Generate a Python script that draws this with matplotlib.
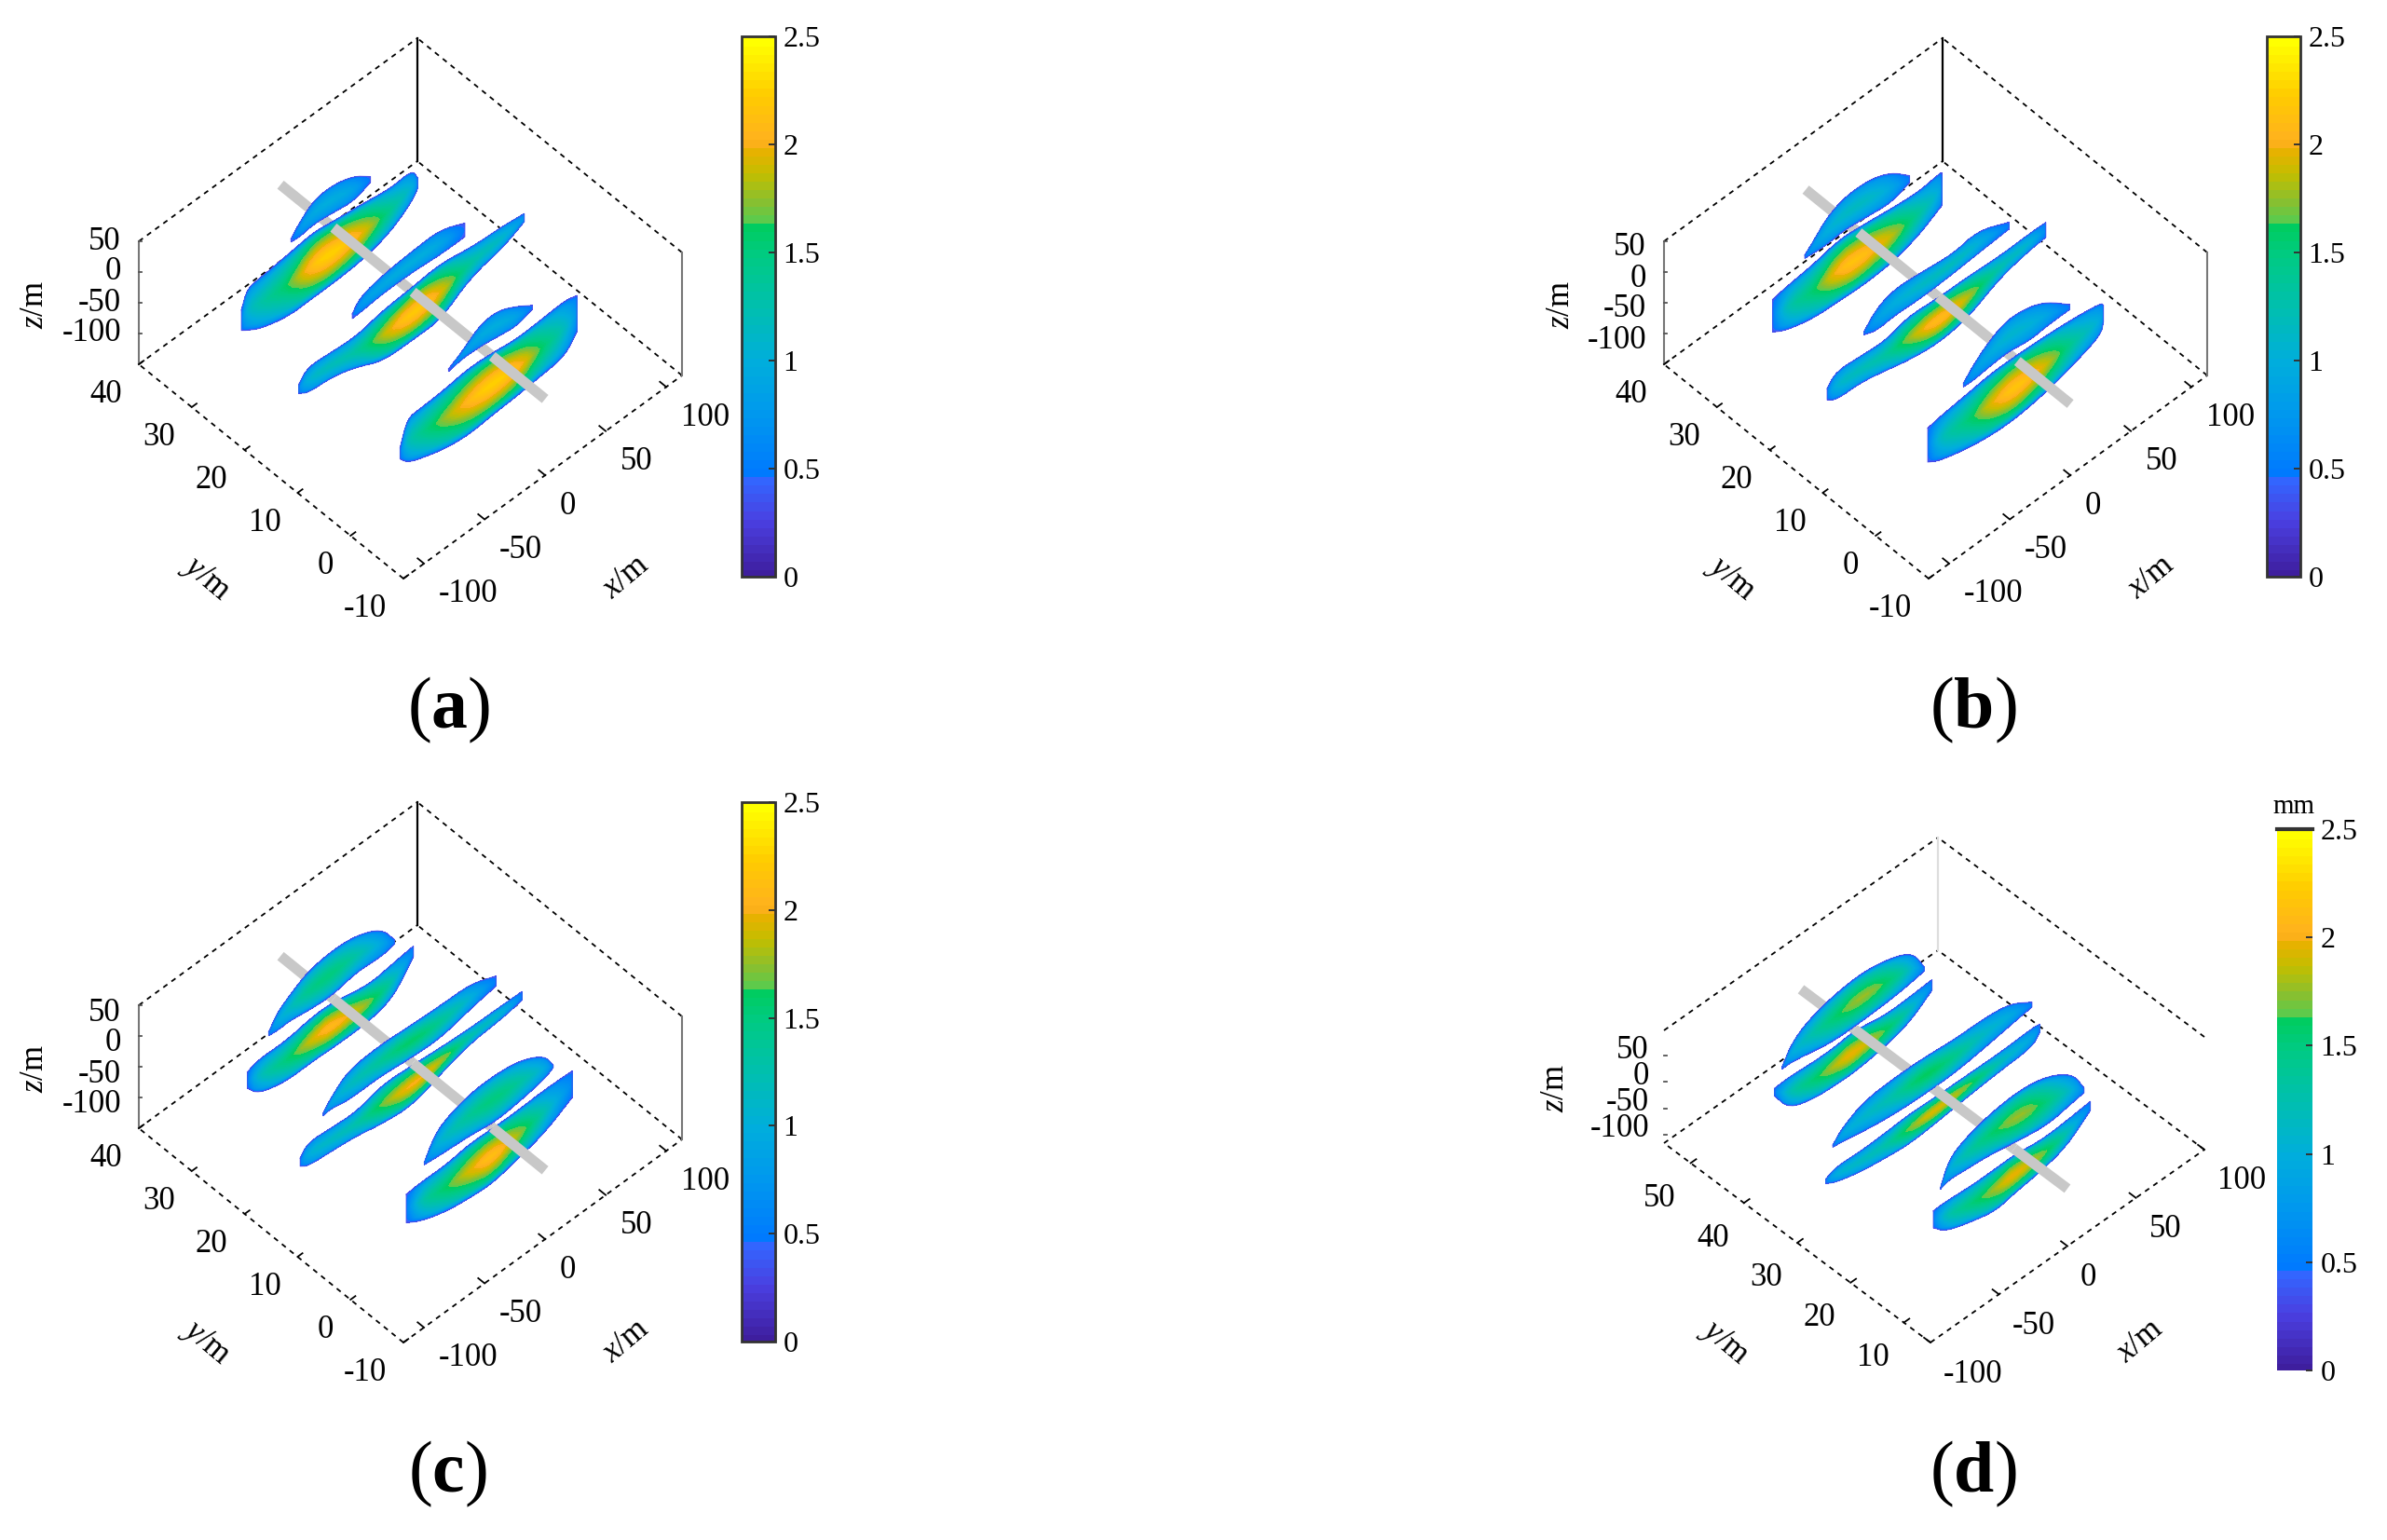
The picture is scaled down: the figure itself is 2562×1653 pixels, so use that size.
import numpy as np
import matplotlib
matplotlib.use('Agg')
import matplotlib.pyplot as plt
import matplotlib.tri as mtri
from matplotlib.cm import ScalarMappable
from matplotlib.colors import LinearSegmentedColormap, Normalize

plt.rcParams['font.family'] = ['Liberation Serif', 'DejaVu Serif']
plt.rcParams['mathtext.fontset'] = 'custom'
plt.rcParams['mathtext.rm'] = 'Liberation Serif'
plt.rcParams['mathtext.it'] = 'Liberation Serif:italic'
plt.rcParams['mathtext.bf'] = 'Liberation Serif:bold'

# colour scale
cbar_ticks = [0, 0.5, 1, 1.5, 2, 2.5]
cbar_labels = ['0', '0.5', '1', '1.5', '2', '2.5']
scale_vals = [0, .25, .44, .46, .75, 1.0, 1.25, 1.5, 1.63, 1.65, 1.75, 1.88, 2.0, 2.03, 2.25, 2.5]
scale_cols = ['#3E1E9E', '#4A3FE0', '#3366FF', '#0078FF', '#0098EE', '#00AEDC', '#00BFB0', '#00CB82',
              '#00CC60', '#55CC50', '#88C030', '#C2BE00', '#ECB000', '#FFB020', '#FFCC00', '#FFFF00']

# across-lobe profile
across_frac = [0, .05, .13, .28, .4, .5, .6, .72, .87, .95, 1]
across_gain = [0, .38, .64, .82, .94, 1, .94, .82, .64, .38, 0]
edge_val = 0.3

# panel (a), slices at y = 0, 15, 30
a0_low_x = [-76, -70, -60, -40, -20, 0, 20, 40, 60, 70]
a0_low_top = [-70, -31, -30, -28, -22, -25, -31, -29, -26, -32]
a0_low_bot = [-88, -102, -111, -124, -130, -126, -124, -120, -116, -90]
a0_low_peak = [.5, 1.2, 1.4, 1.75, 2.1, 2.3, 2.15, 1.6, 1.2, .7]
a0_up_x = [-36, -25, -10, 5, 20, 33]
a0_up_top = [1, 13, 35, 37, 22, 5]
a0_up_bot = [-3, 1, 0, -5, -10, -1]
a0_up_peak = [.4, .75, .95, 1.0, .9, .45]

a1_low_x = [-94, -86.5, -66, -46, -25, 0, 23, 48, 74, 92]
a1_low_top = [-45, -28, -32, -35, -25, -22, -17, -27, -30, -35]
a1_low_bot = [-60, -70, -73, -86, -107, -108, -108, -75, -65, -48]
a1_low_peak = [.6, 1.1, 1.2, 1.3, 1.85, 2.3, 2.0, 1.25, 1.15, .7]
a1_up_x = [-50, -43, -23, 2.5, 23, 43]
a1_up_top = [6, 24, 33, 37, 38, 20]
a1_up_bot = [-1.5, -1, 3, 2, -2, -2]
a1_up_peak = [.4, .8, .95, 1.0, .95, .45]

a2_low_x = [-76, -71, -60, -37, -16.5, 1.3, 24, 47, 65, 69.5]
a2_low_top = [-55, -27, -25, -20, -14, -20, -26, -34, -30, -49]
a2_low_bot = [-88, -95, -108, -121, -120, -120, -117, -105, -80, -66]
a2_low_peak = [.55, 1.1, 1.3, 1.6, 2.2, 2.3, 2.0, 1.4, 1.05, .6]
a2_up_x = [-35, -28, -16.5, -1.3, 16.5, 30.5]
a2_up_top = [2, 18, 37, 40, 30, 9]
a2_up_bot = [-3, -5, -1, -5, -11, 0]
a2_up_peak = [.4, .75, .95, 1.0, .9, .45]

# panel (b)
b0_low_x = [-74, -64, -41, -20, 0, 25, 48, 69, 71]
b0_low_top = [-33, -29, -24, -19, -20, -23, -28, -35, -41]
b0_low_bot = [-88, -100, -113, -120, -121, -114, -101, -86, -68]
b0_low_peak = [.5, 1.2, 1.5, 2.0, 2.25, 1.9, 1.3, 1.0, .5]
b0_up_x = [-44.5, -36, -23, -7.6, 10, 25, 43]
b0_up_top = [-2, 16, 36, 49, 44, 30, 0]
b0_up_bot = [-8, -9, -6, -4, -11, -8, -8]
b0_up_peak = [.5, .8, .95, 1.1, 1.05, .9, .5]

b1_low_x = [-91.6, -84, -63.6, -43, -25, 0, 25.4, 51, 76, 89]
b1_low_top = [-48, -31, -35, -39, -27, -32, -33, -37, -36, -37]
b1_low_bot = [-66, -77, -78, -88, -98, -106, -99, -73, -63, -61]
b1_low_peak = [.55, 1.1, 1.2, 1.3, 1.75, 2.2, 1.85, 1.2, 1.1, .6]
b1_up_x = [-61, -51, -35.6, -12.7, 12.7, 33, 58.5]
b1_up_top = [1, 23, 34, 29, 22, 30, 7]
b1_up_bot = [-4, -12, -9, -12, -10, -7, -4]
b1_up_peak = [.5, .85, 1.0, 1.15, 1.2, 1.05, .5]

b2_low_x = [-71, -60, -37, -16.5, 0, 26.7, 49.6, 67.4, 68.7]
b2_low_top = [-37, -33, -28, -19, -22, -30, -35, -30, -32]
b2_low_bot = [-90, -103, -116, -118, -121, -119, -106, -86, -85]
b2_low_peak = [.5, 1.25, 1.55, 2.1, 2.2, 1.9, 1.35, 1.0, .5]
b2_up_x = [-44.5, -37, -26.7, -11.5, 9, 26.7, 42]
b2_up_top = [-3, 10, 31, 44, 43, 29, 2]
b2_up_bot = [-8, -10, -12, -9, -15, -20, -9]
b2_up_peak = [.5, .8, 1.0, 1.15, 1.15, .95, .5]

# panel (c)
c0_low_x = [-71, -58.5, -38, -18, 0, 20, 43, 66]
c0_low_top = [-37, -35, -36, -30, -32, -33, -31, -33]
c0_low_bot = [-83, -98, -112, -118, -121, -112, -101, -76]
c0_low_peak = [.5, 1.3, 1.6, 1.95, 2.2, 1.85, 1.25, .6]
c0_up_x = [-56, -48, -38, -18, 2.5, 23, 43, 50.4]
c0_up_top = [-6, 24, 39, 51, 52, 46, 25, -1]
c0_up_bot = [-10, -12, -14, -17, -24, -20, -13, -5]
c0_up_peak = [.5, .95, 1.15, 1.4, 1.55, 1.35, 1.0, .5]

c1_low_x = [-93, -86.5, -66, -46, -25.4, 0, 25.4, 48, 74, 90]
c1_low_top = [-51, -35, -39, -42, -29, -33, -38, -41, -42, -43]
c1_low_bot = [-64, -73, -77, -82, -92, -98, -79, -66, -63, -57]
c1_low_peak = [.5, 1.05, 1.15, 1.25, 1.7, 2.1, 1.8, 1.2, 1.1, .55]
c1_up_x = [-74, -67.4, -53.4, -28, -2.5, 23, 48, 68.7]
c1_up_top = [-5, 11, 34, 38, 34, 31, 30, 13]
c1_up_bot = [-9, -7, -14, -13, -19, -22, -10, -3]
c1_up_peak = [.5, .9, 1.15, 1.35, 1.65, 1.4, 1.05, .5]

c2_low_x = [-71, -62, -39.4, -16.5, 0, 29, 49.6, 66]
c2_low_top = [-47, -40, -42, -34, -35, -49, -43, -39]
c2_low_bot = [-73, -95, -108, -107, -109, -109, -98, -56]
c2_low_peak = [.5, 1.2, 1.5, 1.95, 2.15, 1.75, 1.25, .55]
c2_up_x = [-53.4, -45.8, -35.6, -21.6, -1.3, 19, 39.4, 50.4]
c2_up_top = [-7, 15, 28, 44, 50, 46, 27, -6]
c2_up_bot = [-13, -15, -14, -19, -23, -14, -18, -13]
c2_up_peak = [.5, .95, 1.15, 1.45, 1.55, 1.3, .95, .5]

# panel (d), slices at y = 15, 30, 45
d0_low_x = [-59, -50, -31.7, -13.6, 0, 20.4, 38.5, 55.6]
d0_low_top = [-17, -16, -20, -20, -19, -27, -24, -19]
d0_low_bot = [-49, -72, -88, -100, -92, -85, -72, -36]
d0_low_peak = [.55, 1.25, 1.5, 1.8, 2.05, 1.75, 1.25, .55]
d0_up_x = [-53.7, -47.6, -36.3, -18, 4.5, 25, 43, 51]
d0_up_top = [18, 59, 77, 91, 97, 86, 56, 15]
d0_up_bot = [15, 21, 18, 14, 2, -6, 3, 6]
d0_up_peak = [.5, 1.0, 1.25, 1.55, 1.85, 1.5, 1.05, .5]

d1_low_x = [-79, -71.4, -53.3, -35, -19, 1, 26, 48.8, 71.4, 77]
d1_low_top = [-33, -24, -27, -25, -22, -24, -25, -26, -23, -25]
d1_low_bot = [-42, -53, -66, -73, -78, -74, -66, -61, -58, -41]
d1_low_peak = [.55, 1.05, 1.15, 1.25, 1.7, 2.0, 1.7, 1.15, .95, .55]
d1_up_x = [-74, -67, -51, -30.6, -8, 14.7, 37.4, 55.6, 71.4]
d1_up_top = [22, 42, 63, 67, 66, 60, 60, 53, 27]
d1_up_bot = [18, 16, 7, -1, -4, -4, 4, 12, 18]
d1_up_peak = [.5, .95, 1.1, 1.25, 1.7, 1.45, 1.1, 1.0, .5]

d2_low_x = [-58, -47.6, -29.5, -13.6, 0, 22.7, 41, 56.7]
d2_low_top = [-13, -11, -15, -15, -10, -22, -20, -17]
d2_low_bot = [-28, -70, -85, -88, -89, -81, -67, -37]
d2_low_peak = [.55, 1.25, 1.55, 1.85, 2.05, 1.65, 1.2, .6]
d2_up_x = [-52.6, -45.4, -34, -15.9, 6.8, 29.5, 43, 51]
d2_up_top = [18, 50, 70, 84, 90, 77, 58, 18]
d2_up_bot = [14, 14, 8, -2, -2, 1, 6, 10]
d2_up_peak = [.5, 1.0, 1.2, 1.55, 1.85, 1.5, 1.05, .5]

panel_a = {'O': (433, 621), 'R': (732, 403), 'L': (149, 391), 'H': 132,
           'xlim': (-117, 113), 'ylim': (-10, 40), 'zlim': (-150, 50), 'bar_z': -26, 'shift': 4,
           'slices': [30, 15, 0], 'yticks': [-10, 0, 10, 20, 30, 40], 'ylab_off': (-18, 33), 'xlab_off': (16, 33),
           'zlab_off': (-19, 0), 'zlab': (38, 327), 'ylab': (221, 621), 'xlab': (672, 620),
           'cax': (796, 39, 832, 619), 'title': (482, 762), 'letter': 'a', 'full_box': True,
           'lobes': [(a2_up_x, a2_up_top, a2_up_bot, a2_up_peak), (a2_low_x, a2_low_top, a2_low_bot, a2_low_peak),
                     (a1_up_x, a1_up_top, a1_up_bot, a1_up_peak), (a1_low_x, a1_low_top, a1_low_bot, a1_low_peak),
                     (a0_up_x, a0_up_top, a0_up_bot, a0_up_peak), (a0_low_x, a0_low_top, a0_low_bot, a0_low_peak)]}

panel_b = dict(panel_a)
panel_b.update({'O': (2070, 621), 'R': (2369, 403), 'L': (1786, 391), 'bar_z': -34, 'shift': -4,
                'zlab_off': (-19, 7), 'zlab': (1675, 327), 'ylab': (1858, 621), 'xlab': (2309, 620),
                'cax': (2433, 39, 2469, 619), 'title': (2118, 762), 'letter': 'b',
                'lobes': [(b2_up_x, b2_up_top, b2_up_bot, b2_up_peak), (b2_low_x, b2_low_top, b2_low_bot, b2_low_peak),
                          (b1_up_x, b1_up_top, b1_up_bot, b1_up_peak), (b1_low_x, b1_low_top, b1_low_bot, b1_low_peak),
                          (b0_up_x, b0_up_top, b0_up_bot, b0_up_peak), (b0_low_x, b0_low_top, b0_low_bot, b0_low_peak)]})

panel_c = dict(panel_a)
panel_c.update({'O': (433, 1441), 'R': (732, 1223), 'L': (149, 1211), 'bar_z': -38, 'shift': -8,
                'zlab_off': (-19, 8), 'zlab': (38, 1147), 'ylab': (221, 1441), 'xlab': (672, 1440),
                'cax': (796, 861, 832, 1440), 'title': (480, 1582), 'letter': 'c',
                'lobes': [(c2_up_x, c2_up_top, c2_up_bot, c2_up_peak), (c2_low_x, c2_low_top, c2_low_bot, c2_low_peak),
                          (c1_up_x, c1_up_top, c1_up_bot, c1_up_peak), (c1_low_x, c1_low_top, c1_low_bot, c1_low_peak),
                          (c0_up_x, c0_up_top, c0_up_bot, c0_up_peak), (c0_low_x, c0_low_top, c0_low_bot, c0_low_peak)]})

panel_d = {'O': (2072, 1441), 'R': (2366, 1234), 'L': (1786, 1227), 'H': 121,
           'xlim': (-100, 100), 'ylim': (5, 55), 'zlim': (-116, 98), 'bar_z': -7, 'shift': 0,
           'slices': [45, 30, 15], 'yticks': [10, 20, 30, 40, 50], 'ylab_off': (-16, 38), 'xlab_off': (14, 34),
           'zlab_off': (-16, -6), 'zlab': (1670, 1168), 'ylab': (1851, 1441), 'xlab': (2297, 1440),
           'cax': (2444, 890, 2482, 1471), 'title': (2118, 1582), 'letter': 'd', 'full_box': False,
           'lobes': [(d2_up_x, d2_up_top, d2_up_bot, d2_up_peak), (d2_low_x, d2_low_top, d2_low_bot, d2_low_peak),
                     (d1_up_x, d1_up_top, d1_up_bot, d1_up_peak), (d1_low_x, d1_low_top, d1_low_bot, d1_low_peak),
                     (d0_up_x, d0_up_top, d0_up_bot, d0_up_peak), (d0_low_x, d0_low_top, d0_low_bot, d0_low_peak)]}

W, H = 2562, 1653
xticks = [-100, -50, 0, 50, 100]
zticks = [-100, -50, 0, 50]
FS = 25
cmap = LinearSegmentedColormap.from_list('bar', [(v / 2.5, c) for v, c in zip(scale_vals, scale_cols)], N=64)
levels = np.linspace(0, 2.5, 65)


def project(p, x, y, z):
    """axis values -> figure pixels, using the box corners of the panel"""
    x, y, z = np.asarray(x, float), np.asarray(y, float), np.asarray(z, float)
    fx = (x - p['xlim'][0]) / (p['xlim'][1] - p['xlim'][0])
    fy = (y - p['ylim'][0]) / (p['ylim'][1] - p['ylim'][0])
    fz = (z - p['zlim'][0]) / (p['zlim'][1] - p['zlim'][0])
    ox, oy = p['O']
    px = ox + fx * (p['R'][0] - ox) + fy * (p['L'][0] - ox)
    py = oy + fx * (p['R'][1] - oy) + fy * (p['L'][1] - oy) - fz * p['H']
    return px, py


def round_off(arr, passes=2):
    # corner cutting so the outline is not a polygon, end stations stay put
    for _ in range(passes):
        q = 0.75 * arr[:-1] + 0.25 * arr[1:]
        r = 0.25 * arr[:-1] + 0.75 * arr[1:]
        arr = np.r_[arr[0], np.column_stack([q, r]).ravel(), arr[-1]]
    return arr


def draw_lobe(ax, p, y, lobe, zo):
    xs, top, bot, peak = [round_off(np.asarray(v, float)) for v in lobe]
    top = top + p['shift']
    bot = bot + p['shift']
    nrow = len(across_frac)
    n = len(xs)
    px, py, vals = [], [], []
    for f, g in zip(across_frac, across_gain):
        zz = top + f * (bot - top)
        a, b = project(p, xs, np.full(n, y), zz)
        px.append(a)
        py.append(b)
        vals.append(edge_val + (peak - edge_val) * g)
    px, py, vals = np.concatenate(px), np.concatenate(py), np.concatenate(vals)
    tris = []
    for r in range(nrow - 1):
        for i in range(n - 1):
            k = r * n + i
            tris.append([k, k + 1, k + n])
            tris.append([k + 1, k + n + 1, k + n])
    tri = mtri.Triangulation(px, py, tris)
    ax.tricontourf(tri, vals, levels=levels, cmap=cmap, norm=Normalize(0, 2.5), zorder=zo, extend='both',
                   antialiased=False)
    # thin rim so the lobe keeps its edge colour
    ring_x = np.r_[px[:n], px[-n:][::-1], px[0]]
    ring_y = np.r_[py[:n], py[-n:][::-1], py[0]]
    ax.plot(ring_x, ring_y, color='#4A4AE8', lw=0.9, alpha=0.6, zorder=zo + 0.1)


def draw_box(ax, p):
    xa, xb = p['xlim']
    ya, yb = p['ylim']
    za, zb = p['zlim']
    dash = dict(color='k', lw=1.3, ls=(0, (3, 3)), zorder=1)
    # floor
    for c in [((xa, ya), (xb, ya)), ((xa, ya), (xa, yb)), ((xa, yb), (xb, yb)), ((xb, ya), (xb, yb))]:
        a, b = project(p, [c[0][0], c[1][0]], [c[0][1], c[1][1]], [za, za])
        ax.plot(a, b, **dash)
    # top rim
    for c in [((xa, yb), (xb, yb)), ((xb, ya), (xb, yb))]:
        a, b = project(p, [c[0][0], c[1][0]], [c[0][1], c[1][1]], [zb, zb])
        ax.plot(a, b, **dash)
    a, b = project(p, [xb, xb], [yb, yb], [za, zb])
    ax.plot(a, b, color='k' if p['full_box'] else '#DDDDDD', lw=1.6, zorder=1)
    if p['full_box']:
        for xx, yy in [(xa, yb), (xb, ya)]:
            a, b = project(p, [xx, xx], [yy, yy], [za, zb])
            ax.plot(a, b, color='#777777', lw=1.5, zorder=1)
    # ticks and labels
    for t in xticks:
        a, b = project(p, [t, t], [ya, ya + 1.2], [za, za])
        ax.plot(a, b, color='k', lw=1.3, zorder=1)
        ax.text(a[0] + p['xlab_off'][0], b[0] + p['xlab_off'][1], str(t), fontsize=FS, ha='left', va='center')
    for t in p['yticks']:
        a, b = project(p, [xa, xa + 4], [t, t], [za, za])
        ax.plot(a, b, color='k', lw=1.3, zorder=1)
        ax.text(a[0] + p['ylab_off'][0], b[0] + p['ylab_off'][1], str(t), fontsize=FS, ha='right', va='center')
    for t in zticks:
        a, b = project(p, [xa, xa], [yb, yb], [t, t])
        ax.plot([a[0], a[0] + 3], [b[0], b[0]], color='#555555', lw=1.3, zorder=1)
        ax.text(a[0] + p['zlab_off'][0], b[0] + p['zlab_off'][1], str(t), fontsize=FS, ha='right', va='center')
    ax.text(*p['zlab'], r'$\mathit{z}$/m', fontsize=FS, rotation=90, ha='center', va='center')
    ax.text(*p['ylab'], r'$\mathit{y}$/m', fontsize=FS, rotation=-40, ha='center', va='center')
    ax.text(*p['xlab'], r'$\mathit{x}$/m', fontsize=FS, rotation=40, ha='center', va='center')


def draw_panel(fig, ax, p):
    draw_box(ax, p)
    # bar runs on ten metres past the first and last slice
    stops = [p['slices'][0] + 10] + p['slices'] + [p['slices'][-1] - 10]
    for i in range(len(stops) - 1):
        zo = 3 + i * 2
        a, b = project(p, [0, 0], [stops[i], stops[i + 1]], [p['bar_z'], p['bar_z']])
        ax.plot(a, b, color='#C8C8C8', lw=8, solid_capstyle='butt', zorder=zo)
        if i < 3:
            draw_lobe(ax, p, p['slices'][i], p['lobes'][2 * i], zo + 1)
            draw_lobe(ax, p, p['slices'][i], p['lobes'][2 * i + 1], zo + 1.2)
    ax.text(*p['title'], r'($\mathbf{%s}$)' % p['letter'], fontsize=56, ha='center', va='center')

    x0, y0, x1, y1 = p['cax']
    cax = fig.add_axes([x0 / W, 1 - y1 / H, (x1 - x0) / W, (y1 - y0) / H])
    cb = fig.colorbar(ScalarMappable(norm=Normalize(0, 2.5), cmap=cmap), cax=cax)
    cb.set_ticks(cbar_ticks, labels=cbar_labels)
    cb.ax.tick_params(direction='in', length=5, width=1.4, color='#333333', labelsize=FS - 2, pad=6)
    cb.solids.set_edgecolor('face')
    if p['full_box']:
        cb.outline.set_edgecolor('#333333')
        cb.outline.set_linewidth(2)
    else:
        cb.outline.set_visible(False)
        cax.plot([0, 1], [2.5, 2.5], color='#333333', lw=3, transform=cax.get_yaxis_transform(), clip_on=False)
        ax.text((x0 + x1) / 2 - 1, y0 - 24, 'mm', fontsize=21, ha='center', va='center')


fig = plt.figure(figsize=(W / 100, H / 100), dpi=100)
ax = fig.add_axes([0, 0, 1, 1])
ax.set_xlim(0, W)
ax.set_ylim(H, 0)
ax.axis('off')

for panel in [panel_a, panel_b, panel_c, panel_d]:
    draw_panel(fig, ax, panel)

fig.savefig('out.png', dpi=100, facecolor='white')
